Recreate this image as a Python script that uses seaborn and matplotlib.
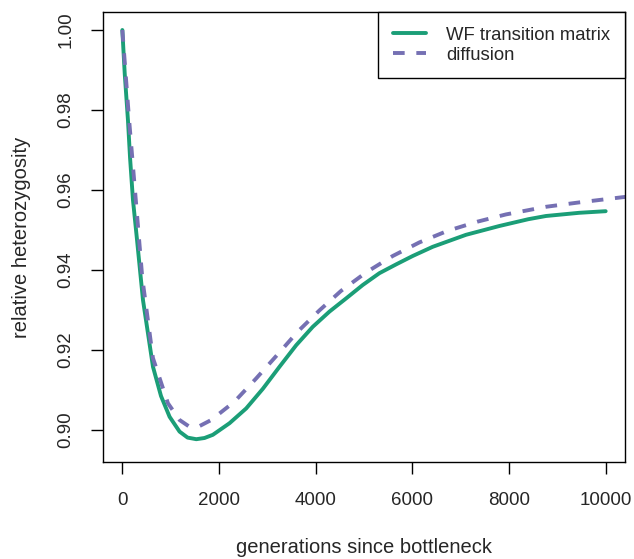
import matplotlib
matplotlib.use("Agg")
import matplotlib.pyplot as plt
import pandas as pd
import seaborn as sns

# values
wf_gen = [0, 50, 116, 160, 220, 300, 427, 634, 800, 978, 1184, 1350, 1530, 1700, 1873,
          2218, 2563, 2907, 3251, 3597, 3940, 4285, 4630, 4974, 5318, 5664, 6007,
          6422, 7111, 7800, 8400, 8764, 9453, 10000]
wf_het = [1.0, 0.989, 0.9775, 0.968, 0.9575, 0.948, 0.9325, 0.9158, 0.9085, 0.9033,
          0.8996, 0.8981, 0.8977, 0.8980, 0.8988, 0.9017, 0.9054, 0.9103, 0.9158,
          0.9212, 0.9258, 0.9296, 0.9329, 0.93625, 0.9392, 0.9414, 0.9435, 0.9458,
          0.9488, 0.9510, 0.9527, 0.9535, 0.9543, 0.9547]

diff_gen = [0, 137, 275, 413, 633, 943, 1184, 1391, 1600, 1839, 2321, 2770, 3251,
            3630, 4078, 4527, 5044, 5594, 6146, 6731, 7352, 7939, 8764, 9453, 10350, 10600]
diff_het = [1.0, 0.978, 0.958, 0.938, 0.918, 0.9067, 0.9025, 0.9008, 0.9010, 0.9025,
            0.9071, 0.9129, 0.9194, 0.9246, 0.9299, 0.9348, 0.9394, 0.9435, 0.9469,
            0.9498, 0.9521, 0.9539, 0.9558, 0.9569, 0.9582, 0.9585]

series_names = ["WF transition matrix", "diffusion"]
x_ticks = [0, 2000, 4000, 6000, 8000, 10000]
y_ticks = [0.90, 0.92, 0.94, 0.96, 0.98, 1.00]

df = pd.concat([
    pd.DataFrame({"gen": wf_gen, "het": wf_het, "model": series_names[0]}),
    pd.DataFrame({"gen": diff_gen, "het": diff_het, "model": series_names[1]}),
], ignore_index=True)

sns.set_style("ticks")
plt.rcParams["font.family"] = ["Liberation Sans", "DejaVu Sans"]

fig = plt.figure(figsize=(6.34, 5.59), dpi=100)
ax = fig.add_axes([103 / 634, 1 - 462 / 559, 522 / 634, 450 / 559])

palette = {"WF transition matrix": "#1b9e77", "diffusion": "#7570b3"}
dashes = {"WF transition matrix": "", "diffusion": (3, 3)}
sns.lineplot(data=df, x="gen", y="het", hue="model", style="model", palette=palette,
             dashes=dashes, linewidth=2.8, sort=False, estimator=None, ax=ax)

ax.set_xlim(-400, 10400)
ax.set_ylim(0.892, 1.0045)
ax.set_xticks(x_ticks)
ax.set_xticklabels([str(t) for t in x_ticks])
ax.set_yticks(y_ticks)
ax.set_yticklabels([f"{t:.2f}" for t in y_ticks], rotation=90, va="center")
ax.tick_params(axis="both", labelsize=13.5, length=8.5, width=1, color="black")
ax.tick_params(axis="x", pad=13)
ax.tick_params(axis="y", pad=12)
for s in ax.spines.values():
    s.set_visible(True)
    s.set_color("black")
    s.set_linewidth(1)

ax.set_xlabel("generations since bottleneck", fontsize=14.5, labelpad=21)
ax.set_ylabel("relative heterozygosity", fontsize=14.5, labelpad=19)

leg = ax.legend(loc="upper right", bbox_to_anchor=(1, 1), borderaxespad=0,
                fancybox=False, framealpha=1, edgecolor="black", fontsize=13.3,
                handlelength=1.8, handletextpad=1.1, borderpad=0.8,
                labelspacing=0.15, title=None)
leg.get_frame().set_linewidth(1)

fig.savefig("out.png", dpi=100)
